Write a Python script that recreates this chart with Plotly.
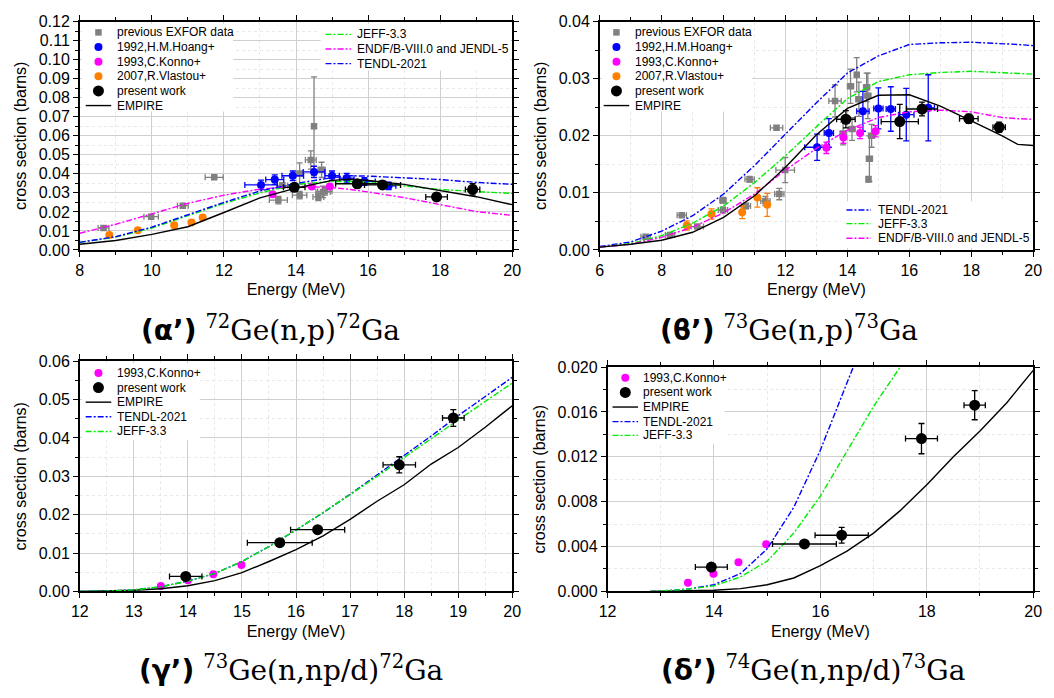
import plotly.graph_objects as go

W, H = 1054, 698

# ---------------- Panel (a) 72Ge(n,p)72Ga ----------------
a_exfor_E  = [8.66, 9.98, 10.86, 11.73, 13.51, 13.62, 14.10, 14.10, 14.41, 14.50, 14.71, 14.62, 14.75, 14.80]
a_exfor_xs = [0.0116, 0.0175, 0.0233, 0.0382, 0.0262, 0.0339, 0.0288, 0.0402, 0.0473, 0.0650, 0.0421, 0.0279, 0.0305, 0.0308]
a_exfor_dE = [0.15, 0.20, 0.15, 0.25, 0.25, 0.15, 0.20, 0.10, 0.15, 0.00, 0.10, 0.15, 0.20, 0.20]
a_exfor_dxs = [0.0010, 0.0010, 0.0010, 0.0008, 0.0020, 0.0015, 0.0020, 0.0056, 0.0048, 0.0260, 0.0040, 0.0020, 0.0030, 0.0020]

a_hoang_E  = [13.03, 13.41, 13.91, 14.50, 15.00, 15.41, 15.90, 16.57]
a_hoang_xs = [0.0342, 0.0370, 0.0390, 0.0410, 0.0390, 0.0378, 0.0360, 0.0337]
a_hoang_dE = [0.45, 0.25, 0.30, 0.30, 0.20, 0.20, 0.30, 0.20]
a_hoang_dxs = [0.0025, 0.0025, 0.0025, 0.0030, 0.0025, 0.0025, 0.0020, 0.0020]

a_konno_E  = [13.35, 14.44, 14.94]
a_konno_xs = [0.0293, 0.0334, 0.0334]

a_vlastou_E  = [8.82, 9.61, 10.62, 11.10, 11.41]
a_vlastou_xs = [0.0079, 0.0103, 0.0130, 0.0144, 0.0171]
a_vlastou_dxs = [0.0008, 0.0008, 0.0009, 0.0010, 0.0010]

a_pw_E   = [13.95, 15.70, 16.40, 17.90, 18.90]
a_pw_xs  = [0.0329, 0.0348, 0.0342, 0.0279, 0.0318]
a_pw_dE  = [0.30, 0.60, 0.50, 0.30, 0.20]
a_pw_dxs = [0.0020, 0.0020, 0.0020, 0.0020, 0.0030]

a_model_E = [8, 9, 10, 11, 12, 13, 14, 15, 15.5, 16, 17, 18, 19, 20]
a_empire  = [0.0030, 0.0050, 0.0082, 0.0122, 0.0197, 0.0274, 0.0325, 0.0366, 0.0372, 0.0365, 0.0345, 0.0312, 0.0280, 0.0238]
a_jeff    = [0.0040, 0.0068, 0.0115, 0.0180, 0.0245, 0.0300, 0.0345, 0.0360, 0.0360, 0.0355, 0.0335, 0.0318, 0.0307, 0.0297]
a_endf    = [0.0088, 0.0135, 0.0190, 0.0245, 0.0288, 0.0320, 0.0335, 0.0328, 0.0318, 0.0305, 0.0275, 0.0237, 0.0202, 0.0182]
a_tendl   = [0.0040, 0.0070, 0.0120, 0.0185, 0.0250, 0.0310, 0.0350, 0.0380, 0.0390, 0.0388, 0.0380, 0.0370, 0.0355, 0.0345]

# ---------------- Panel (b) 73Ge(n,p)73Ga ----------------
b_exfor_E  = [7.48, 8.27, 8.65, 9.15, 9.98, 9.98, 10.72, 10.84, 11.35, 11.80, 11.71, 11.99, 13.60, 13.86, 14.10, 14.15, 14.30, 14.37, 14.62, 14.66, 14.71, 14.68, 14.78]
b_exfor_xs = [0.0023, 0.0026, 0.0061, 0.0041, 0.0087, 0.0070, 0.0077, 0.0124, 0.0086, 0.0098, 0.0214, 0.0140, 0.0261, 0.0204, 0.0287, 0.0212, 0.0307, 0.0264, 0.0285, 0.0270, 0.0160, 0.0124, 0.0200]
b_exfor_dE = [0.15, 0.15, 0.15, 0.20, 0.10, 0.15, 0.15, 0.15, 0.15, 0.15, 0.20, 0.30, 0.20, 0.10, 0.10, 0.10, 0.05, 0.10, 0.10, 0.10, 0.10, 0.05, 0.10]
b_exfor_dxs = [0.0003, 0.0003, 0.0003, 0.0003, 0.0005, 0.0005, 0.0005, 0.0005, 0.0008, 0.0010, 0.0004, 0.0022, 0.0028, 0.0020, 0.0030, 0.0020, 0.0030, 0.0030, 0.0025, 0.0040, 0.0040, 0.0005, 0.0020]

b_hoang_E  = [13.02, 13.40, 14.50, 15.00, 15.40, 15.90, 16.61]
b_hoang_xs = [0.0180, 0.0205, 0.0243, 0.0248, 0.0247, 0.0237, 0.0249]
b_hoang_dE = [0.40, 0.15, 0.20, 0.15, 0.15, 0.25, 0.20]
b_hoang_dxs = [0.0023, 0.0025, 0.0035, 0.0036, 0.0039, 0.0046, 0.0058]

b_konno_E  = [13.32, 13.87, 14.41, 14.91]
b_konno_xs = [0.0179, 0.0197, 0.0205, 0.0208]
b_konno_dxs = [0.0010, 0.0010, 0.0010, 0.0010]

b_vlastou_E  = [8.81, 9.61, 10.60, 11.09, 11.41]
b_vlastou_xs = [0.0043, 0.0063, 0.0066, 0.0092, 0.0079]
b_vlastou_dxs = [0.0008, 0.0009, 0.0011, 0.0017, 0.0020]

b_pw_E   = [13.95, 15.69, 16.41, 17.92, 18.90]
b_pw_xs  = [0.0229, 0.0225, 0.0247, 0.0230, 0.0215]
b_pw_dE  = [0.30, 0.60, 0.50, 0.30, 0.20]
b_pw_dxs = [0.0015, 0.0030, 0.0012, 0.0008, 0.0009]

b_model_E = [6, 7, 8, 9, 10, 11, 12, 13, 14, 15, 16, 17, 18, 19, 19.5, 20]
b_empire  = [0.0005, 0.0010, 0.0017, 0.0031, 0.0057, 0.0095, 0.0145, 0.0202, 0.0248, 0.0271, 0.0272, 0.0252, 0.0226, 0.0200, 0.0185, 0.0183]
b_tendl   = [0.0006, 0.0014, 0.0033, 0.0060, 0.0098, 0.0148, 0.0203, 0.0258, 0.0310, 0.0340, 0.0360, 0.0363, 0.0364, 0.0362, 0.0360, 0.0358]
b_jeff    = [0.0005, 0.0011, 0.0025, 0.0047, 0.0077, 0.0118, 0.0165, 0.0216, 0.0265, 0.0295, 0.0307, 0.0311, 0.0313, 0.0311, 0.0310, 0.0308]
b_endf    = [0.0005, 0.0010, 0.0022, 0.0040, 0.0065, 0.0098, 0.0140, 0.0178, 0.0210, 0.0232, 0.0242, 0.0245, 0.0242, 0.0232, 0.0230, 0.0229]

# ---------------- Panel (c) 73Ge(n,np/d)72Ga ----------------
c_konno_E  = [13.50, 14.00, 14.47, 14.99]
c_konno_xs = [0.00144, 0.0029, 0.0045, 0.0069]

c_pw_E   = [13.96, 15.70, 16.40, 17.91, 18.91]
c_pw_xs  = [0.0039, 0.0127, 0.0161, 0.0330, 0.0452]
c_pw_dE  = [0.30, 0.60, 0.50, 0.30, 0.20]
c_pw_dxs = [0.0005, 0.0008, 0.0008, 0.0021, 0.0022]

c_model_E = [12, 12.5, 13, 13.5, 14, 14.5, 15, 15.5, 16, 16.5, 17, 17.5, 18, 18.5, 19, 19.5, 20]
c_empire  = [0.0, 0.0001, 0.0003, 0.0007, 0.0015, 0.0028, 0.0049, 0.0078, 0.0109, 0.0145, 0.0188, 0.0235, 0.0278, 0.0332, 0.0375, 0.0428, 0.0484]
c_tendl   = [0.0, 0.0001, 0.0004, 0.0012, 0.0027, 0.0047, 0.0078, 0.0117, 0.0160, 0.0205, 0.0253, 0.0303, 0.0355, 0.0405, 0.0458, 0.0508, 0.0558]
c_jeff    = [0.0, 0.0001, 0.0004, 0.0012, 0.0027, 0.0047, 0.0078, 0.0117, 0.0160, 0.0205, 0.0252, 0.0300, 0.0350, 0.0398, 0.0447, 0.0494, 0.0543]

# ---------------- Panel (d) 74Ge(n,np/d)73Ga ----------------
d_konno_E  = [13.51, 13.99, 14.46, 14.98]
d_konno_xs = [0.00078, 0.00157, 0.0026, 0.0042]

d_pw_E   = [13.95, 15.70, 16.40, 17.90, 18.90]
d_pw_xs  = [0.00217, 0.00423, 0.00501, 0.01362, 0.0166]
d_pw_dE  = [0.30, 0.60, 0.50, 0.30, 0.20]
d_pw_dxs = [0.0002, 0.0002, 0.0007, 0.00135, 0.0013]

d_empire_E = [12.8, 13, 13.5, 14, 14.5, 15, 15.5, 16, 16.5, 17, 17.5, 18, 18.5, 19, 19.5, 20]
d_empire   = [0.0, 0.00002, 0.00005, 0.0001, 0.00025, 0.0006, 0.0012, 0.0023, 0.0036, 0.0052, 0.0072, 0.0095, 0.0120, 0.0143, 0.0168, 0.0197]
d_tendl_E  = [12.8, 13, 13.5, 14, 14.5, 15, 15.5, 16, 16.5, 17]
d_tendl    = [0.0, 0.00003, 0.0002, 0.0006, 0.0016, 0.0038, 0.0075, 0.0126, 0.0186, 0.0245]
d_jeff_E   = [12.8, 13, 13.5, 14, 14.5, 15, 15.5, 16, 16.5, 17, 17.5, 18]
d_jeff     = [0.0, 0.00003, 0.0002, 0.0005, 0.0013, 0.0027, 0.0052, 0.0085, 0.0125, 0.0165, 0.0200, 0.0240]

# ---------------- styles ----------------
GRAY, BLUE, MAG, ORANGE, BLACK, GREEN = "#808080", "#0000FF", "#FF00FF", "#FF8000", "#000000", "#00EE00"
DASHDOT = "6px,2px,2px,2px"
FONT = "Liberation Sans, Arial, sans-serif"
SIZES = {"square": 6.5, "circle": 8, "big": 11}

fig = go.Figure()


def pts(E, xs, name, color, kind, ax, dE=None, dxs=None):
    symbol = "square" if kind == "square" else "circle"
    tr = dict(x=E, y=xs, mode="markers", name=name, showlegend=False,
              marker=dict(color=color, symbol=symbol, size=SIZES[kind], line=dict(width=0)),
              xaxis="x" + ax, yaxis="y" + ax)
    if dE is not None:
        tr["error_x"] = dict(type="data", array=dE, color=color, thickness=1.3, width=3)
    if dxs is not None:
        tr["error_y"] = dict(type="data", array=dxs, color=color, thickness=1.3, width=3)
    fig.add_trace(go.Scatter(**tr))


def curve(E, xs, name, color, dash, ax):
    fig.add_trace(go.Scatter(x=E, y=xs, mode="lines", name=name, showlegend=False,
                             line=dict(color=color, width=1.4, dash=dash),
                             xaxis="x" + ax, yaxis="y" + ax))


# panel a
pts(a_exfor_E, a_exfor_xs, "previous EXFOR data", GRAY, "square", "", a_exfor_dE, a_exfor_dxs)
pts(a_hoang_E, a_hoang_xs, "1992,H.M.Hoang+", BLUE, "circle", "", a_hoang_dE, a_hoang_dxs)
pts(a_konno_E, a_konno_xs, "1993,C.Konno+", MAG, "circle", "")
pts(a_vlastou_E, a_vlastou_xs, "2007,R.Vlastou+", ORANGE, "circle", "", None, a_vlastou_dxs)
curve(a_model_E, a_jeff, "JEFF-3.3", GREEN, DASHDOT, "")
curve(a_model_E, a_endf, "ENDF/B-VIII.0 and JENDL-5", MAG, DASHDOT, "")
curve(a_model_E, a_tendl, "TENDL-2021", BLUE, DASHDOT, "")
curve(a_model_E, a_empire, "EMPIRE", BLACK, "solid", "")
pts(a_pw_E, a_pw_xs, "present work", BLACK, "big", "", a_pw_dE, a_pw_dxs)

# panel b
pts(b_exfor_E, b_exfor_xs, "previous EXFOR data", GRAY, "square", "2", b_exfor_dE, b_exfor_dxs)
pts(b_hoang_E, b_hoang_xs, "1992,H.M.Hoang+", BLUE, "circle", "2", b_hoang_dE, b_hoang_dxs)
pts(b_konno_E, b_konno_xs, "1993,C.Konno+", MAG, "circle", "2", None, b_konno_dxs)
pts(b_vlastou_E, b_vlastou_xs, "2007,R.Vlastou+", ORANGE, "circle", "2", None, b_vlastou_dxs)
curve(b_model_E, b_tendl, "TENDL-2021", BLUE, DASHDOT, "2")
curve(b_model_E, b_jeff, "JEFF-3.3", GREEN, DASHDOT, "2")
curve(b_model_E, b_endf, "ENDF/B-VIII.0 and JENDL-5", MAG, DASHDOT, "2")
curve(b_model_E, b_empire, "EMPIRE", BLACK, "solid", "2")
pts(b_pw_E, b_pw_xs, "present work", BLACK, "big", "2", b_pw_dE, b_pw_dxs)

# panel c
pts(c_konno_E, c_konno_xs, "1993,C.Konno+", MAG, "circle", "3")
curve(c_model_E, c_empire, "EMPIRE", BLACK, "solid", "3")
curve(c_model_E, c_tendl, "TENDL-2021", BLUE, DASHDOT, "3")
curve(c_model_E, c_jeff, "JEFF-3.3", GREEN, DASHDOT, "3")
pts(c_pw_E, c_pw_xs, "present work", BLACK, "big", "3", c_pw_dE, c_pw_dxs)

# panel d
pts(d_konno_E, d_konno_xs, "1993,C.Konno+", MAG, "circle", "4")
curve(d_empire_E, d_empire, "EMPIRE", BLACK, "solid", "4")
curve(d_tendl_E, d_tendl, "TENDL-2021", BLUE, DASHDOT, "4")
curve(d_jeff_E, d_jeff, "JEFF-3.3", GREEN, DASHDOT, "4")
pts(d_pw_E, d_pw_xs, "present work", BLACK, "big", "4", d_pw_dE, d_pw_dxs)


def px(v):
    return v / W


def py(v):
    return 1 - v / H


def xaxis(dom, rng, dtick, mdtick, anchor):
    return dict(domain=dom, range=rng, dtick=dtick, tick0=0, anchor=anchor,
                showline=True, linecolor="black", linewidth=1.5, mirror="ticks",
                ticks="outside", ticklen=5, tickwidth=1.2, tickcolor="black",
                showgrid=True, gridcolor="#cfcfcf", gridwidth=1, zeroline=False,
                minor=dict(dtick=mdtick, ticks="outside", ticklen=3, tickcolor="black",
                           showgrid=True, gridcolor="#e8e8e8", griddash="dot"),
                tickfont=dict(size=16, family=FONT, color="black"),
                title=dict(text="Energy (MeV)", font=dict(size=16, family=FONT, color="black"), standoff=6))


def yaxis(dom, rng, dtick, mdtick, anchor, fmt):
    d = xaxis(dom, rng, dtick, mdtick, anchor)
    d["tickformat"] = fmt
    d["title"] = dict(text="cross section (barns)", font=dict(size=16, family=FONT, color="black"), standoff=8)
    return d


ya = [py(248), py(14)]
yc = [py(598), py(362)]
yd = [py(598), py(368)]

fig.update_layout(
    width=W, height=H, margin=dict(l=0, r=0, t=0, b=0),
    paper_bgcolor="white", plot_bgcolor="white", showlegend=False,
    xaxis=xaxis([px(72), px(512)], [8, 20], 2, 1, "y"),
    yaxis=yaxis(ya, [0, 0.12], 0.01, 0.005, "x", ".2f"),
    xaxis2=xaxis([px(601), px(1042)], [6, 20], 2, 1, "y2"),
    yaxis2=yaxis(ya, [0, 0.04], 0.01, 0.005, "x2", ".2f"),
    xaxis3=xaxis([px(72), px(512)], [12, 20], 1, 0.5, "y3"),
    yaxis3=yaxis(yc, [0, 0.06], 0.01, 0.005, "x3", ".2f"),
    xaxis4=xaxis([px(609), px(1042)], [12, 20], 2, 1, "y4"),
    yaxis4=yaxis(yd, [0, 0.02], 0.004, 0.002, "x4", ".3f"),
)

# ---------------- legends (compact, like the original) ----------------
# each legend: box (x0, y0, x1, y1) in px, sample x range, text x, rows of (kind, label, color, y)
legends = [
    dict(box=(74, 16, 228, 106), sx=(78, 104), tx=108, rows=[
        ("square", "previous EXFOR data", GRAY, 25),
        ("circle", "1992,H.M.Hoang+", BLUE, 40),
        ("circle", "1993,C.Konno+", MAG, 55),
        ("circle", "2007,R.Vlastou+", ORANGE, 70),
        ("big", "present work", BLACK, 85),
        ("solid", "EMPIRE", BLACK, 100)]),
    dict(box=(317, 16, 510, 64), sx=(322, 348), tx=352, rows=[
        ("dash", "JEFF-3.3", GREEN, 27),
        ("dash", "ENDF/B-VIII.0 and JENDL-5", MAG, 42),
        ("dash", "TENDL-2021", BLUE, 57)]),
    dict(box=(603, 16, 756, 106), sx=(605, 631), tx=635, rows=[
        ("square", "previous EXFOR data", GRAY, 25),
        ("circle", "1992,H.M.Hoang+", BLUE, 40),
        ("circle", "1993,C.Konno+", MAG, 55),
        ("circle", "2007,R.Vlastou+", ORANGE, 70),
        ("big", "present work", BLACK, 85),
        ("solid", "EMPIRE", BLACK, 100)]),
    dict(box=(846, 198, 1040, 246), sx=(852, 877), tx=882, rows=[
        ("dash", "TENDL-2021", BLUE, 207),
        ("dash", "JEFF-3.3", GREEN, 221),
        ("dash", "ENDF/B-VIII.0 and JENDL-5", MAG, 236)]),
    dict(box=(74, 364, 194, 443), sx=(78, 104), tx=108, rows=[
        ("circle", "1993,C.Konno+", MAG, 374),
        ("big", "present work", BLACK, 389),
        ("solid", "EMPIRE", BLACK, 404),
        ("dash", "TENDL-2021", BLUE, 419),
        ("dash", "JEFF-3.3", GREEN, 434)]),
    dict(box=(611, 370, 728, 447), sx=(614, 640), tx=643, rows=[
        ("circle", "1993,C.Konno+", MAG, 379),
        ("big", "present work", BLACK, 394),
        ("solid", "EMPIRE", BLACK, 409),
        ("dash", "TENDL-2021", BLUE, 424),
        ("dash", "JEFF-3.3", GREEN, 438)]),
]

for lg in legends:
    x0, y0, x1, y1 = lg["box"]
    fig.add_shape(type="rect", xref="paper", yref="paper", x0=px(x0), x1=px(x1), y0=py(y1), y1=py(y0),
                  fillcolor="white", line=dict(width=0), layer="above")
    sx0, sx1 = lg["sx"]
    cx = (sx0 + sx1) / 2
    for kind, label, color, yy in lg["rows"]:
        if kind in ("solid", "dash"):
            fig.add_shape(type="line", xref="paper", yref="paper", x0=px(sx0), x1=px(sx1), y0=py(yy), y1=py(yy),
                          line=dict(color=color, width=1.4, dash="solid" if kind == "solid" else DASHDOT),
                          layer="above")
        else:
            r = SIZES[kind] / 2
            fig.add_shape(type="rect" if kind == "square" else "circle",
                          xref="paper", yref="paper", xsizemode="pixel", ysizemode="pixel",
                          xanchor=px(cx), yanchor=py(yy), x0=-r, x1=r, y0=-r, y1=r,
                          fillcolor=color, line=dict(width=0), layer="above")
        fig.add_annotation(x=px(lg["tx"]), y=py(yy), xref="paper", yref="paper", showarrow=False,
                           xanchor="left", yanchor="middle", text=label,
                           font=dict(size=12, family=FONT, color="black"))

titles = [
    ("(α’)", "<sup>72</sup>Ge(n,p)<sup>72</sup>Ga", 266, 329),
    ("(ϐ’)", "<sup>73</sup>Ge(n,p)<sup>73</sup>Ga", 794, 329),
    ("(γ’)", "<sup>73</sup>Ge(n,np/d)<sup>72</sup>Ga", 287, 677),
    ("(δ’)", "<sup>74</sup>Ge(n,np/d)<sup>73</sup>Ga", 818, 677),
]
for lab, reac, cx, cy in titles:
    fig.add_annotation(
        x=px(cx), y=py(cy), xref="paper", yref="paper", showarrow=False,
        xanchor="center", yanchor="middle",
        text=f"<span style='font-family:DejaVu Sans;font-weight:bold'>{lab}</span> {reac}",
        font=dict(size=28, family="DejaVu Serif", color="black"))

fig.write_html("out.html")
